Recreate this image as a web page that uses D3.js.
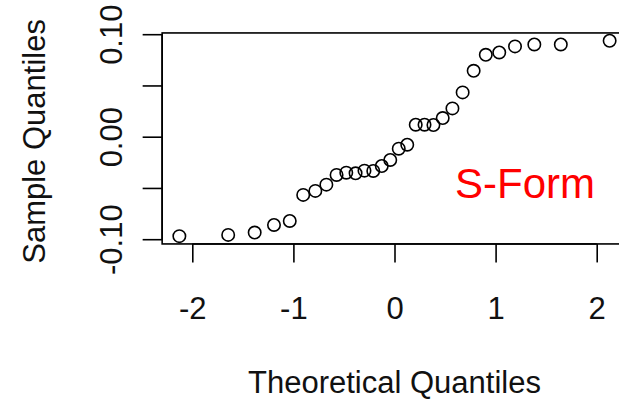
<!DOCTYPE html>
<html>
<head>
<meta charset="utf-8">
<script src="https://cdn.jsdelivr.net/npm/d3@7"></script>
<style>
  html, body { margin: 0; padding: 0; background: #fff; }
  svg { display: block; }
  text { font-family: "Liberation Sans", Arial, sans-serif; }
</style>
</head>
<body>
<svg id="chart" width="619" height="400"></svg>
<script>
// Theoretical quantiles (normal scores for n = 30)
const theoretical = [-2.128, -1.645, -1.383, -1.192, -1.036, -0.903, -0.783, -0.674, -0.573, -0.477,
                     -0.385, -0.297, -0.210, -0.126, -0.042, 0.042, 0.126, 0.210, 0.297, 0.385,
                     0.477, 0.573, 0.674, 0.783, 0.903, 1.036, 1.192, 1.383, 1.645, 2.128];
// Sample quantiles (sorted)
const sample = [-0.0970, -0.0958, -0.0935, -0.0861, -0.0822, -0.0568, -0.0529, -0.0468, -0.0373, -0.0351,
                -0.0357, -0.0331, -0.0334, -0.0286, -0.0227, -0.0117, -0.0078, 0.0117, 0.0117, 0.0114,
                0.0182, 0.0276, 0.0432, 0.0643, 0.0799, 0.0822, 0.0881, 0.0900, 0.0900, 0.0936];
const xTicks = [-2, -1, 0, 1, 2];
const yTicks = [-0.10, -0.05, 0.00, 0.05, 0.10];
const yTickLabels = ["-0.10", "", "0.00", "", "0.10"];
const xTitle = "Theoretical Quantiles";
const yTitle = "Sample Quantiles";
const annotation = "S-Form";

const svg = d3.select("#chart");

const x = d3.scaleLinear().domain([-2, 2]).range([192.3, 596.7]);
const y = d3.scaleLinear().domain([-0.10, 0.10]).range([239.2, 34.2]);

// R-style 4% extended plot region
const xe = d3.extent(theoretical), ye = d3.extent(sample);
const xpad = (xe[1] - xe[0]) * 0.04, ypad = (ye[1] - ye[0]) * 0.04;
const bx0 = x(xe[0] - xpad), bx1 = x(xe[1] + xpad);
const by0 = y(ye[1] + ypad), by1 = y(ye[0] - ypad);

const lw = 1.6;

// box
svg.append("rect")
  .attr("x", bx0).attr("y", by0)
  .attr("width", bx1 - bx0).attr("height", by1 - by0)
  .attr("fill", "none").attr("stroke", "#000").attr("stroke-width", lw);

// x axis
const xAxis = d3.axisBottom(x).tickValues(xTicks).tickSize(18.5).tickPadding(0)
  .tickFormat(d => d3.format("d")(d).replace("−", "-"));
const gx = svg.append("g").attr("transform", `translate(0,${by1})`).call(xAxis);
gx.select(".domain").attr("d", `M${x(xTicks[0])},0H${x(xTicks[xTicks.length-1])}`)
  .attr("stroke-width", lw);
gx.selectAll(".tick line").attr("stroke-width", lw);
gx.selectAll(".tick text")
  .attr("y", 0).attr("dy", null)
  .attr("transform", `translate(0,${319 - by1})`)
  .attr("font-size", 31).attr("fill", "#111")
  .style("font-family", "'Liberation Sans', Arial, sans-serif");

// y axis
const yAxis = d3.axisLeft(y).tickValues(yTicks).tickSize(19.5).tickPadding(0)
  .tickFormat((d, i) => yTickLabels[i]);
const gy = svg.append("g").attr("transform", `translate(${bx0},0)`).call(yAxis);
gy.select(".domain").attr("d", `M0,${y(yTicks[0])}V${y(yTicks[yTicks.length-1])}`)
  .attr("stroke-width", lw);
gy.selectAll(".tick line").attr("stroke-width", lw);
gy.selectAll(".tick text")
  .attr("x", 0).attr("dy", null)
  .attr("transform", `translate(${121.5 - bx0},0) rotate(-90)`)
  .attr("text-anchor", "middle")
  .attr("font-size", 31).attr("fill", "#111")
  .style("font-family", "'Liberation Sans', Arial, sans-serif");

// points
svg.append("g").selectAll("circle")
  .data(theoretical.map((t, i) => [t, sample[i]]))
  .join("circle")
  .attr("cx", d => x(d[0])).attr("cy", d => y(d[1]))
  .attr("r", 6.2)
  .attr("fill", "none").attr("stroke", "#000").attr("stroke-width", 1.6);

// titles
svg.append("text")
  .attr("x", x(0)).attr("y", 393)
  .attr("text-anchor", "middle").attr("font-size", 31).attr("fill", "#111")
  .text(xTitle);

svg.append("text")
  .attr("transform", `translate(45,${(by0 + by1) / 2 + 3}) rotate(-90)`)
  .attr("text-anchor", "middle").attr("font-size", 31).attr("fill", "#111")
  .text(yTitle);

// annotation
svg.append("text")
  .attr("x", 455).attr("y", 198)
  .attr("font-size", 42).attr("fill", "#ff0000")
  .text(annotation);
</script>
</body>
</html>
